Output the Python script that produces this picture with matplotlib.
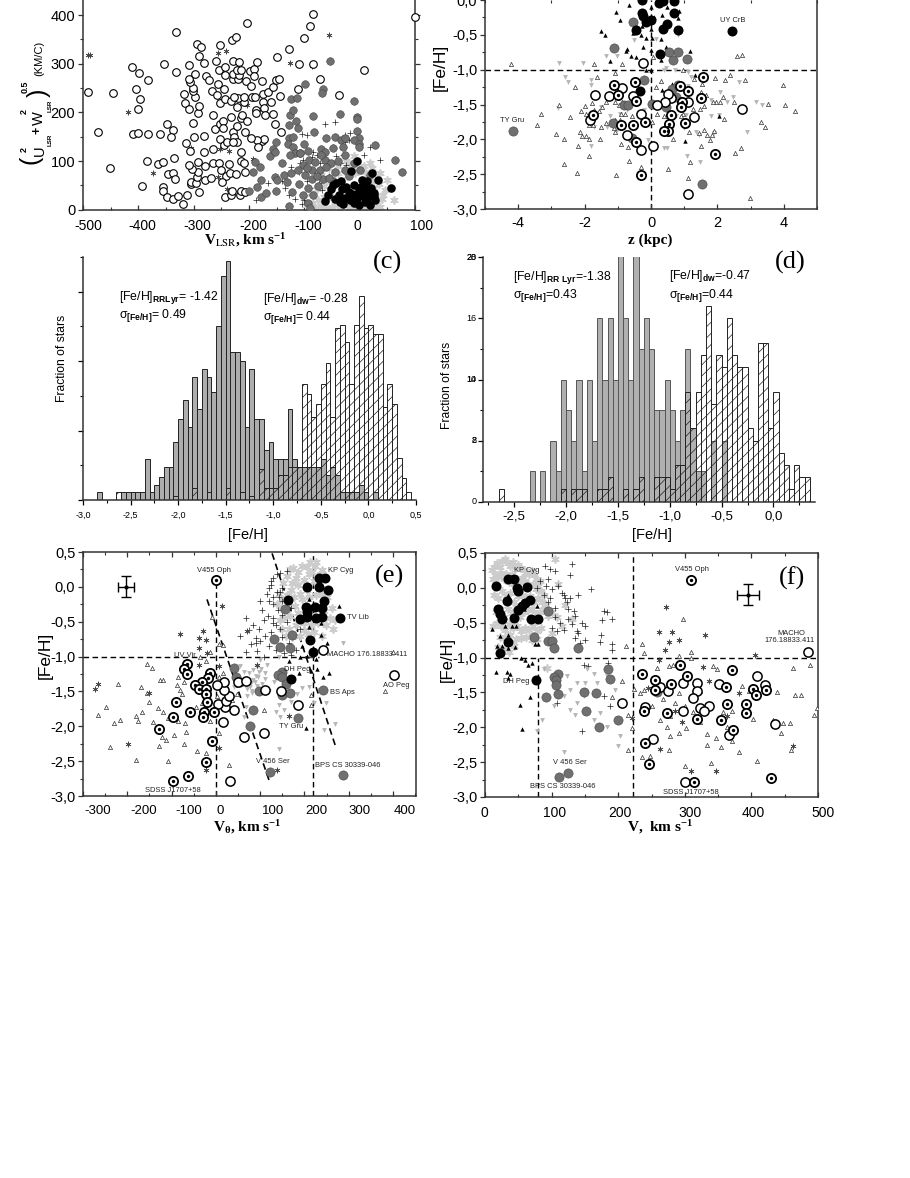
import matplotlib
matplotlib.use("Agg")

import matplotlib.pyplot as plt
from matplotlib.ticker import MultipleLocator

W, H = 910, 1178
SANS = "Liberation Sans"
SERIF = "Liberation Serif"

plt.rcParams["font.family"] = [SANS, "DejaVu Sans"]
plt.rcParams["mathtext.fontset"] = "custom"
plt.rcParams["mathtext.rm"] = SANS
plt.rcParams["mathtext.bf"] = SANS + ":bold"
plt.rcParams["mathtext.default"] = "regular"
plt.rcParams["hatch.linewidth"] = 0.5
plt.rcParams["axes.unicode_minus"] = False

# panel (a): V_LSR against sqrt(U^2 + W^2)
a_open_v = [-491, -446, -473, -452, -411, -399, -382, -404, -397, -400, -410, -400, -382, -361, -384, -394, -365, -355,
            -353, -332, -332, -349, -338, -341, -336, -347, -338, -333, -355, -355, -349, -338, -329, -319, -312, -291,
            -304, -305, -295, -294, -292, -303, -308, -293, -279, -265, -280, -268, -314, -306, -299, -281, -282, -265,
            -302, -293, -290, -315, -308, -317, -297, -302, -302, -307, -308, -297, -309, -290, -294, -286, -282, -277,
            -272, -266, -258, -259, -252, -255, -256, -246, -244, -244, -253, -244, -232, -265, -262, -253, -247, -247,
            -233, -253, -245, -239, -229, -227, -221, -229, -254, -236, -250, -241, -248, -235, -223, -244, -233, -230,
            -217, -215, -207, -215, -214, -209, -207, -221, -207, -215, -204, -212, -221, -209, -220, -228, -209, -194,
            -189, -229, -220, -229, -218, -229, -218, -221, -214, -206, -196, -198, -191, -191, -185, -177, -230, -224,
            -204, -174, -165, -156, -151, -145, -144, -174, -161, -173, -188, -188, -171, -156, -153, -142, -176, -173,
            -186, -196, -183, -150, -128, -110, -101, -90, -84, -84, -111, -72, -38, 7, 100]
a_open_w = [242, 239, 160, 86, 294, 281, 266, 249, 227, 206, 156, 157, 155, 155, 100, 48, 93, 99,
            300, 366, 284, 177, 164, 149, 107, 74, 75, 63, 47, 38, 27, 23, 29, 12, 30, 36,
            52, 56, 55, 68, 77, 84, 92, 98, 90, 95, 62, 66, 138, 121, 149, 151, 118, 125,
            179, 199, 214, 219, 207, 238, 232, 244, 250, 262, 268, 278, 297, 316, 340, 334, 302, 275,
            266, 244, 236, 306, 339, 287, 258, 249, 294, 276, 220, 227, 223, 195, 165, 176, 183, 167,
            190, 145, 133, 140, 160, 150, 140, 140, 95, 94, 82, 70, 57, 75, 73, 26, 30, 38,
            30, 38, 37, 118, 101, 95, 77, 172, 160, 188, 183, 195, 212, 222, 229, 231, 232, 232,
            232, 268, 268, 279, 277, 305, 303, 287, 287, 264, 255, 286, 290, 275, 303, 264, 349, 355,
            383, 238, 242, 253, 266, 269, 234, 222, 222, 210, 205, 198, 195, 197, 177, 160, 142, 145,
            143, 148, 128, 313, 331, 299, 352, 378, 402, 300, 249, 268, 236, 288, 397]
a_gray_v = [-192, -189, -180, -179, -185, -200, -179, -170, -162, -156, -153, -151, -153, -150, -151, -141, -137, -132,
            -125, -127, -123, -128, -126, -120, -115, -111, -125, -114, -99, -66, -68, -85, -54, -35, -10, -4, -5, -5,
            -82, -61, -45, -34, -27, -2, -10, -1, -2, 27, -127, -130, -121, -120, -101, -117, -108, -126, -93, -69, -63,
            -48, -30, 63, 77, -108, -102, -91, -81, -87, -72, -63, -51, -45, -66, -87, -99, -93, -84, -102, -93, -90,
            -48, -27, 1, 19, -11, -27, -78, -95, -60, -40, -20, -75, -110, -112, -70, -55]
a_gray_w = [77, 99, 88, 61, 46, 38, 27, 35, 110, 124, 119, 140, 68, 62, 38, 95, 71, 57,
            75, 8, 37, 174, 195, 205, 183, 167, 228, 229, 258, 249, 239, 192, 305, 196, 223, 190, 186, 162,
            159, 147, 149, 143, 147, 147, 143, 135, 129, 132, 147, 136, 129, 150, 136, 116, 116, 112, 121, 124, 119,
            126, 129, 102, 78, 116, 92, 102, 99, 82, 82, 102, 95, 78, 64, 64, 71, 44, 30, 30, 13, 3,
            58, 82, 82, 71, 95, 112, 70, 85, 88, 100, 70, 48, 52, 82, 112, 66]
a_black_v = [-5, -16, 22, 34, 57, -33, -42, -32, -48, -57, -63, -36, -27, -19, -11, 4, 13, -2, 13, 25, -7, -1, 7, 19,
             28, -11, 14, 2, -14, -52, -44, -38, -24, -6, 8, 18, 10, -4, -18, -30, 20, 26, 4]
a_black_w = [100, 80, 76, 61, 45, 59, 54, 42, 51, 30, 18, 16, 25, 37, 51, 61, 58, 44, 40, 34, 20, 10, 27, 10,
             20, 13, 20, 34, 32, 42, 22, 30, 47, 32, 50, 30, 15, 25, 20, 12, 44, 28, 48]
a_plus_v = [-62, -45, -105, -96, -27, -17, -27, -20, -48, 7, 19, 36, -165, -188, -135, -117, -105, -108, -102, -87,
            -78, -69, -60, -42, -30, -36, -24, -95, -80, -74, -68, -55, -90, -110, -125, -140, -128, -72, -84, -100]
a_plus_w = [177, 181, 155, 153, 153, 157, 140, 143, 129, 112, 129, 102, 54, 20, 44, 23, 12, 95, 102, 109,
            112, 109, 105, 110, 112, 95, 92, 60, 75, 55, 40, 70, 45, 78, 88, 60, 30, 95, 118, 20]
a_light_v = [49, 62, 19, 37, 46, 40, 37, 28, 10, -5, -20, -35, -50, -60, -70, -80, -90, -85, -75, -65, -55, -45, -30, -15,
             0, 15, 30, 25, 10, -10, -25, -40, -55, -70, -65, -50, -35, -20, -5, 20, 35, 42, -95, -100, -88, -78, -60,
             -40, -22, -8, 8, 22, 5, -12, -30, -48, 30, 16]
a_light_w = [61, 20, 95, 75, 40, 23, 6, 2, 3, 2, 4, 2, 5, 3, 8, 4, 2, 14, 20, 26, 32, 12, 10, 8,
             12, 6, 12, 45, 78, 110, 100, 90, 85, 72, 48, 70, 60, 95, 85, 58, 52, 30, 10, 24, 35, 42, 60,
             75, 70, 75, 90, 86, 32, 30, 18, 25, 28, 44]
a_star_v = [-491, -488, -418, -373, -256, -241, -126, -55, -253, -237, -239, -192, -204, -304, -256, -86]
a_star_w = [318, 318, 200, 75, 323, 326, 301, 360, 125, 121, 42, 105, 215, 126, 68, 296]

# panel (b): z against [Fe/H]
b_gray_z = [-4.15, -0.55, -1.12, 0.53, 0.82, 0.66, 1.08, -0.21, 0.64, 0.75, 0.8, -0.82, -0.68, -1.15, -0.56, 0.04, 0.44, 1.55]
b_gray_fe = [-1.875, -0.32, -0.69, -0.75, -0.74, -0.86, -0.85, -1.15, -1.28, -1.39, -1.22, -1.5, -1.5, -1.76, -1.98, -1.49, -1.54, -2.64]
b_black_z = [2.43, -0.27, 0.24, 0.35, 0.7, -0.27, -0.23, -0.01, -0.16, -0.46, 0.47, 0.36, 0.69, 0.8, 0.28, -0.34]
b_black_fe = [-0.45, 0.0, -0.05, -0.01, -0.01, -0.19, -0.23, -0.29, -0.31, -0.43, -0.34, -0.41, -0.19, -0.43, -0.77, -1.31]
b_open_z = [-0.23, -1.68, -1.28, -0.86, -0.55, -0.31, -1.84, -0.72, -0.3, 0.05, 1.12, 2.75, 1.31, 1.11, 0.59, 0.51, 0.43, 0.18]
b_open_fe = [-0.9, -1.36, -1.38, -1.26, -1.38, -1.64, -1.72, -1.94, -2.16, -2.1, -2.78, -1.57, -1.68, -1.47, -1.41, -1.35, -1.47, -1.5]
b_ring_z = [1.56, -1.11, -0.48, -0.99, -0.44, -1.74, -0.89, -0.54, -0.19, -0.44, -0.3, 1.92, 1.51, 1.12, 0.86, 0.94, 0.89, 0.59, 0.54, 0.5, 0.38, 1.03]
b_ring_fe = [-1.1, -1.22, -1.17, -1.37, -1.45, -1.65, -1.8, -1.79, -1.75, -2.04, -2.51, -2.21, -1.41, -1.31, -1.24, -1.46, -1.53, -1.65, -1.78, -1.88, -1.88, -1.76]
b_tri_z = [-4.22, 2.59, 2.74, -1.71, -0.87, 0.06, 0.95, -1.09, -1.64, -2.29, 0.29, 1.3, 1.94, 2.23, 2.38, 2.82, 3.99, 4.03,
           3.52, 4.33, 3.3, 3.44, -3.31, -3.44, -2.85, -2.76, -2.62, -2.43, -2.63, -2.23, -2.19, -1.86, -1.04, -0.66, -0.3,
           0.52, 1.16, 1.12, 2.99, 2.53, 2.71, -1.99, -1.77, -2.12, -1.95, -1.72, -1.57, -1.47, -1.37, -1.07, -0.97, -0.87,
           -1.87, -1.74, -1.52, -1.37, -1.12, -1.07, -2.15, -2.07, -1.97, -1.87, -1.55, -0.89, -0.51, -0.41, -0.69, 0.14,
           0.19, 0.04, 2.16, 2.08, 1.95, 1.88, 2.21, 2.49, 1.15, 1.45, 1.6, 1.9, 1.85, 1.7, 1.78, 1.5, 0.65, 1.55, 1.1, 1.25,
           1.48, 1.6, 1.67, 1.5, 0.95, 0.69, 0.39, 0.9, -0.31, -0.56, -0.77, -0.61, -0.89, -0.92, -1.07]
b_tri_fe = [-0.92, -0.8, -0.79, -0.92, -0.92, -0.82, -1.0, -1.05, -1.11, -1.25, -1.16, -1.14, -1.12, -1.15, -1.08, -1.15, -1.22, -1.5,
            -1.49, -1.59, -1.75, -1.82, -1.63, -1.79, -1.92, -1.51, -2.0, -1.68, -2.35, -2.48, -2.09, -2.24, -2.51, -2.31, -2.4,
            -2.42, -2.33, -2.55, -2.84, -2.2, -2.12, -1.52, -1.48, -1.59, -1.64, -1.58, -1.59, -1.53, -1.46, -1.47, -1.51, -1.47,
            -1.79, -1.8, -1.82, -1.76, -1.84, -1.89, -1.89, -1.95, -1.95, -1.99, -2.0, -2.06, -1.96, -2.05, -2.11, -1.25,
            -1.63, -1.75, -1.39, -1.46, -1.47, -1.47, -1.71, -1.47, -1.9, -1.91, -1.86, -1.88, -1.94, -1.94, -2.01, -2.09, -2.0, -1.2, -1.48, -1.56,
            -1.56, -1.52, -1.36, -1.32, -1.63, -1.65, -1.67, -1.67, -1.65, -1.67, -1.63, -1.48, -1.63, -1.72, -1.72]
b_down_z = [-2.76, -2.04, -1.35, -1.02, -2.58, -2.49, -1.8, -1.8, -2.81, -1.82, 2.08, 3.15, 3.34, 2.89, 2.66, 1.8, 2.05, 1.07, 1.47,
            0.39, 0.49, -0.09, -0.51, 0.8, 0.14, 0.44, 0.72, 1.1, 1.2, 1.35, 1.45, 1.9, 1.82, 2.3, 2.46, 1.0, 0.75, 1.1, 1.05, 0.39,
            -1.02, -0.92, -1.22, -0.72, -1.52, -0.21, -0.46, -1.32, -1.72]
b_down_fe = [-0.9, -0.91, -0.8, -0.81, -1.1, -1.17, -1.15, -1.22, -1.55, -2.09, -1.32, -1.46, -1.51, -1.9, -1.17, -1.67, -1.65, -2.24, -2.33,
             -2.13, -2.13, -2.01, -0.57, -0.5, -0.56, -0.98, -1.01, -1.03, -1.1, -1.89, -1.94, -1.91, -1.44, -1.46, -1.39, -1.84, -1.67, -1.24, -1.65, -1.0,
             -1.87, -1.63, -1.67, -1.58, -1.53, -1.58, -2.06, -1.82, -1.82]
b_up_z = [-0.66, -1.05, -0.92, -1.5, -1.39, 0.33, 0.85, 0.82, 0.54, 0, -0.31, -0.53, -0.16, 0.04, 0.29, -0.72, -0.75, -0.23, 0, 0.46,
          1.17, -0.61, -0.46, -1.22, 0.29, -0.21, -0.14, 0.01, 1.33, 0.32, 0.64, 1.02, 2.05, -0.46, 0, 0.49, -0.26, 0.09]
b_up_fe = [-0.07, -0.17, -0.28, -0.44, -0.5, -0.21, -0.16, -0.26, -0.33, -0.42, -0.5, -0.48, -0.55, -0.55, -0.56, -0.71, -0.73, -0.68, -0.72, -0.67,
           -0.73, -0.8, -0.82, -0.87, -0.86, -0.91, -1.01, -1.0, -1.08, -1.29, -1.2, -2.02, -1.67, -0.37, -0.1, -0.1, -0.38, -0.24]

# panel (c): histograms
c_rr_feh = [-2.825, -2.575, -2.525, -2.475, -2.425, -2.375, -2.325, -2.275, -2.225, -2.175, -2.125, -2.075, -2.025, -1.975, -1.925,
            -1.875, -1.825, -1.775, -1.725, -1.675, -1.625, -1.575, -1.525, -1.475, -1.425, -1.375, -1.325, -1.275, -1.225, -1.175,
            -1.125, -1.075, -1.025, -0.975, -0.925, -0.875, -0.825, -0.775, -0.725, -0.675, -0.625, -0.575, -0.525, -0.475, -0.425,
            -0.375, -0.325, -0.275, -0.225, -0.175, -0.125, -0.075, -0.025, 0.075]
c_rr_n = [2, 2, 2, 2, 2, 2, 10.6, 2, 4, 6, 8.5, 8.5, 15, 21, 26,
          19, 32, 23.5, 34, 32, 28, 45, 58, 62, 38.5, 38.5, 36, 19, 34, 21,
          21, 13, 15, 10.6, 10.6, 10.6, 23.5, 10.6, 8.5, 8.5, 8.5, 8.5, 8.5, 10.6, 6.5,
          8.5, 6.5, 2, 2, 2, 2, 4, 2, 2]
c_dw_feh = [-2.625, -2.025, -1.825, -1.675, -1.475, -1.325, -1.225, -1.125, -1.075, -1.025, -0.975, -0.925, -0.875, -0.825, -0.775,
            -0.725, -0.675, -0.625, -0.575, -0.525, -0.475, -0.425, -0.375, -0.325, -0.275, -0.225, -0.175, -0.125, -0.075, -0.025,
            0.025, 0.075, 0.125, 0.175, 0.225, 0.275, 0.325, 0.375, 0.425]
c_dw_n = [2, 1, 3, 2, 3, 2, 1, 8, 3, 3, 3, 6.5, 6.5, 8.5, 8.5,
          8.5, 30, 27.5, 21.5, 25, 30, 35.5, 21.5, 44.5, 45.5, 41, 30, 45.5, 53, 44.5, 45.5,
          43, 43, 24, 30, 25, 11, 5.6, 2]

# panel (d): histograms
d_rr_feh = [-2.325, -2.225, -2.125, -2.075, -2.025, -1.975, -1.925, -1.875, -1.825, -1.775, -1.725, -1.675, -1.625, -1.575,
            -1.525, -1.475, -1.425, -1.375, -1.325, -1.275, -1.225, -1.175, -1.125, -1.075, -1.025, -0.975, -0.925, -0.875,
            -0.825, -0.775, -0.725, -0.675, -0.575, -0.475]
d_rr_n = [2.5, 2.5, 5, 2.5, 10, 7.5, 5, 10, 2.5, 10, 5, 15, 10, 15,
          10, 20.5, 15, 10, 20.5, 12.5, 15, 12.5, 7.5, 7.5, 10, 7.5, 5, 7.5,
          12.5, 6, 2.5, 2.5, 5, 5]
d_dw_feh = [-2.625, -2.025, -1.925, -1.875, -1.825, -1.675, -1.625, -1.575, -1.425, -1.325, -1.275, -1.125, -1.075, -1.025,
            -0.975, -0.925, -0.875, -0.825, -0.775, -0.725, -0.675, -0.625, -0.575, -0.525, -0.475, -0.425, -0.375, -0.325, -0.275,
            -0.225, -0.175, -0.125, -0.075, -0.025, 0.025, 0.075, 0.125, 0.175, 0.225, 0.275, 0.325]
d_dw_n = [1, 1, 1, 1, 1, 1, 1, 2, 1, 1, 2, 2, 2, 2,
          1, 3, 3, 9, 6, 9, 12, 16, 8, 12, 11, 15, 12, 11, 11,
          6, 5, 13, 13, 6, 9, 4, 3, 1, 3, 2, 2]

# panel (e): V_theta against [Fe/H]
e_gray_v = [40, 45, 54, 97, 84, 78, 123, 287, 242, 185, 156, 132, 144, 172, 167, 150, 140, 150, 159, 150, 167]
e_gray_fe = [-1.17, -1.3, -1.36, -1.5, -1.76, -2.0, -2.65, -2.7, -1.48, -1.88, -0.32, -0.75, -0.86, -0.69, -0.87, -1.22, -1.27, -1.3, -1.39, -1.55, -1.52]
e_black_v = [162, 206, 234, 246, 234, 253, 244, 203, 225, 206, 240, 240, 280, 190, 206, 212, 220, 169, 227]
e_black_fe = [-0.19, 0.0, 0.13, 0.13, 0.0, -0.05, -0.2, -0.29, -0.29, -0.36, -0.31, -0.43, -0.44, -0.46, -0.43, -0.76, -0.93, -1.32, -0.44]
e_open_v = [402, 243, 185, 147, 110, 108, 63, 31, 17, 42, 21, 5, 23, 29, 19, 19, 2, 51, 67]
e_open_fe = [-1.26, -0.91, -1.7, -1.5, -1.48, -2.1, -2.16, -2.78, -1.94, -1.76, -1.72, -1.68, -1.64, -1.57, -1.48, -1.37, -1.41, -1.37, -1.35]
e_ring_v = [0, -66, -72, -66, -13, -17, -32, -47, -39, -22, -22, -19, -26, -29, -5, -91, -97, -58, -128, -8, -22, -64, -96]
e_ring_fe = [0.1, -1.11, -1.18, -1.25, -1.23, -1.31, -1.37, -1.41, -1.46, -1.46, -1.54, -1.65, -1.79, -1.87, -1.79, -1.65, -1.86, -1.79, -2.04, -2.21, -2.51, -2.72, -2.78]
e_star_v = [-81, -30, -39, -22, -39, 15, 70, -20, -39, -272, -266, -150, -198, -23, 137, 166, 6, 94, 6]
e_star_fe = [-0.68, -0.63, -0.74, -0.76, -0.88, -0.27, -0.63, -0.95, -1.12, -1.46, -1.39, -1.52, -2.26, -2.62, -2.62, -1.85, -2.31, -1.12, -1.13]
e_tri_v = [-156, -145, -221, -249, -267, -217, -230, -240, -181, -181, -166, -175, -170, -155, -150, -126, -119, -88, -81, -77, -130, -119, -107,
           -85, -70, -141, -134, -122, -113, -128, -94, -73, -68, -107, -43, -23, 30, 6, -13, -2, 25, -85, -71, -62, -14, -22, -36, 8, 17, -9, 382,
           214, 214, 214, 108, 399, 36, 48, 17, 6, -45, -32, 2]
e_tri_fe = [-1.11, -1.16, -1.4, -1.72, -1.84, -1.91, -1.95, -2.3, -2.48, -1.85, -1.8, -1.93, -1.43, -1.52, -1.65, -1.34, -1.33, -1.41, -1.48, -1.54, -1.74, -1.79, -1.88,
            -1.93, -1.96, -1.94, -2.03, -2.15, -2.19, -2.28, -2.13, -2.25, -2.08, -2.5, -2.35, -2.39, -2.56, -2.1, -1.93, -2.17, -1.74, -1.29, -1.36, -1.26, -0.93, -1.06, -1.01, -0.82, -0.83, -0.43, -1.49,
            -0.98, -1.55, -1.69, -1.76, -0.93, -1.62, -1.53, -1.24, -1.29, -1.72, -1.67, -1.57]
e_down_v = [244, 269, 142, 135, 146, 63, 67, 70, 82, 119, 131, 142, 153, 169, 184, 195, 210, 233, 221, 248, 63, 55, 85, 112, 142, 100, 116, 288,
            63, 78, 42, 33, 92, 98, 90, 85, 80, 95, 88, 103, 75, 70, 105, 112, 92, 82, 98]
e_down_fe = [-2.05, -1.97, -2.33, -1.79, -1.86, -1.86, -1.72, -1.57, -1.5, -1.5, -1.36, -1.69, -1.76, -1.65, -1.53, -1.45, -1.43, -1.48, -1.67, -1.67, -1.22, -1.14, -1.19, -1.24, -1.0, -1.05, -1.12, -0.81,
             -1.34, -1.43, -1.43, -1.76, -1.15, -1.22, -1.28, -1.33, -1.38, -1.3, -1.36, -1.18, -1.24, -1.46, -1.4, -1.32, -1.42, -1.52, -1.48]
e_up_v = [279, 210, 216, 191, 206, 227, 165, 229, 216, 255, 243, 187, 203, 237, 252, 237, 209, 195, 210]
e_up_fe = [-0.27, -0.17, -0.95, -1.0, -0.99, -1.03, -1.07, -1.18, -1.2, -1.23, -1.29, -1.24, -2.03, -0.69, -0.8, -0.52, -0.72, -0.85, -0.58]
e_plus_v = [138, 125, 145, 161, 130, 119, 138, 150, 143, 119, 104, 128, 140, 69, 108, 128, 97, 55, 90, 90, 67, 108, 130, 150, 160,
            145, 125, 112, 100, 120, 135, 155, 170, 180, 165, 150, 135, 118, 100, 85, 130, 150, 170, 190, 145, 125, 115, 75, 80, 92]
e_plus_fe = [0.18, 0.09, 0.2, 0.23, 0.12, -0.02, -0.07, -0.02, -0.14, -0.21, -0.33, -0.25, -0.33, -0.44, -0.48, -0.52, -0.6, -0.71, -0.73, -0.8, -0.93, -1.0, -0.45, -0.4, -0.5,
             -0.6, -0.65, -0.7, -0.78, -0.85, -0.9, -0.95, -0.98, -0.9, -0.8, -0.72, -0.55, -0.42, -0.2, -0.55, -0.15, -0.2, -0.3, -0.6, -0.08, 0.03, -0.1, -0.62, -0.82, -0.92]
e_light_v = [168, 175, 186, 195, 205, 212, 218, 226, 235, 180, 172, 160, 152, 170, 185, 198, 210, 222, 232, 240, 225, 205, 190, 176, 160, 150, 142,
             138, 148, 162, 178, 194, 210, 226, 240, 252, 262, 270, 258, 245, 232, 216, 200, 185, 168, 155, 145, 150, 165, 182, 198, 214, 230, 248, 264, 190,
             208, 172, 158, 222, 240]
e_light_fe = [0.25, 0.27, 0.22, 0.3, 0.28, 0.36, 0.22, 0.35, 0.18, 0.12, 0.05, 0.15, 0.05, -0.05, 0.03, 0.1, 0.18, 0.08, 0.02, 0.24, 0.3, -0.05, -0.1, -0.15, -0.12, -0.18, -0.1,
              -0.25, -0.3, -0.25, -0.28, -0.18, -0.15, -0.12, -0.1, -0.15, -0.3, -0.48, -0.45, -0.35, -0.3, -0.4, -0.52, -0.38, -0.42, -0.45, -0.48, -0.6, -0.6, -0.55, -0.62, -0.55, -0.52, -0.55, -0.6, -0.7,
              -0.68, -0.72, -0.7, -0.65, -0.7]

# panel (f): V against [Fe/H]
f_gray_v = [95, 74, 94, 100, 103, 139, 109, 104, 106, 106, 110, 91, 148, 152, 166, 171, 184, 187, 200, 124, 111, 258]
f_gray_fe = [-0.33, -0.7, -0.76, -0.76, -0.86, -0.86, -1.23, -1.28, -1.32, -1.4, -1.52, -1.56, -1.49, -1.77, -1.51, -2.0, -1.17, -1.31, -1.89, -2.65, -2.71, -1.5]
f_black_v = [16, 35, 43, 48, 49, 63, 33, 20, 23, 26, 43, 68, 60, 55, 50, 69, 79, 35, 22, 76]
f_black_fe = [0.02, 0.13, 0.13, 0.0, -0.05, 0.01, -0.19, -0.3, -0.37, -0.44, -0.43, -0.18, -0.22, -0.26, -0.32, -0.45, -0.44, -0.78, -0.94, -1.32]
f_open_v = [485, 409, 420, 436, 367, 205, 253, 301, 240, 263, 275, 298, 319, 318, 312, 297, 323, 336, 329, 351]
f_open_fe = [-0.92, -1.27, -1.39, -1.96, -2.11, -1.65, -2.17, -2.79, -1.71, -1.42, -1.48, -1.37, -1.36, -1.48, -1.58, -1.77, -1.73, -1.69, -1.76, -1.38]
f_ring_v = [309, 235, 255, 255, 280, 293, 303, 371, 362, 402, 407, 422, 363, 392, 392, 354, 373, 319, 273, 238, 240, 246, 314, 429]
f_ring_fe = [0.11, -1.23, -1.32, -1.46, -1.38, -1.11, -1.26, -1.18, -1.42, -1.45, -1.54, -1.47, -1.66, -1.66, -1.79, -1.89, -2.04, -1.88, -1.79, -1.76, -2.22, -2.53, -2.79, -2.73]
f_star_v = [272, 261, 281, 276, 291, 330, 271, 262, 327, 244, 296, 286, 263, 309, 347, 463, 405, 221, 336, 381, 364]
f_star_fe = [-0.28, -0.64, -0.63, -0.77, -0.75, -0.68, -0.89, -1.03, -1.13, -1.44, -1.92, -1.76, -2.31, -2.63, -2.63, -2.27, -0.96, -1.86, -1.34, -1.51, -1.84]
f_plus_v = [90, 98, 131, 128, 105, 159, 140, 118, 123, 95, 83, 78, 105, 133, 178, 183, 190, 175, 150, 138, 174, 190, 191, 173, 143, 155, 148, 108, 178, 188, 145, 185,
            92, 100, 110, 115, 120, 125, 135, 98, 105, 112, 125, 130, 140, 150, 118, 108, 88, 95, 100, 135, 145, 128]
f_plus_fe = [0.32, 0.27, 0.34, 0.19, 0.24, -0.02, -0.1, -0.1, -0.21, 0.12, 0.1, 0.0, -0.29, -0.33, -0.33, -0.35, -0.44, -0.46, -0.55, -0.62, -0.68, -0.8, -0.89, -0.78, -0.79, -1.12, -1.11, -1.65, -1.55, -1.7, -2.06, -1.08,
             0.02, -0.02, 0.03, -0.08, -0.15, -0.3, -0.4, -0.15, -0.42, -0.5, -0.45, -0.52, -0.65, -0.75, -0.6, -0.62, -0.1, -0.2, -0.58, -0.72, -0.5, -0.15]
f_light_v = [10, 14, 18, 22, 26, 30, 34, 38, 42, 46, 50, 54, 58, 62, 66, 70, 74, 78, 82, 12, 16, 20, 24, 28, 32, 36, 40, 44, 48, 52, 56, 60, 64, 68, 72, 76, 80, 84, 88,
             14, 20, 26, 32, 38, 44, 50, 56, 62, 68, 74, 80, 86, 92, 16, 22, 28, 34, 40, 46, 52, 58, 64, 70, 76, 82, 88, 94, 100, 108, 93, 12, 18, 24, 30, 36, 42, 48, 54, 60, 66, 72, 78, 84,
             22, 30, 38, 46, 54, 62, 70, 78, 20, 28, 36, 44, 110, 120, 130, 100, 115, 105]
f_light_fe = [0.25, 0.3, 0.35, 0.3, 0.38, 0.42, 0.36, 0.32, 0.37, 0.3, 0.33, 0.28, 0.25, 0.22, 0.2, 0.24, 0.18, 0.12, 0.1, 0.12, 0.18, 0.15, 0.22, 0.12, 0.2, 0.08, 0.2, 0.06, 0.12, 0.08, 0.14, 0.1, 0.06, 0.03, 0.05, -0.02, 0.02, -0.05, -0.1,
              -0.1, -0.15, -0.05, -0.12, -0.08, -0.2, -0.12, -0.1, -0.15, -0.12, -0.2, -0.15, -0.2, -0.25, -0.35, -0.3, -0.42, -0.3, -0.36, -0.28, -0.42, -0.35, -0.32, -0.3, -0.38, -0.35, -0.3, -0.4, -0.35, -0.42, -1.15, -0.55, -0.5, -0.55, -0.6, -0.52, -0.58, -0.55, -0.62, -0.58, -0.6, -0.55, -0.62, -0.58,
              -0.7, -0.72, -0.68, -0.74, -0.72, -0.7, -0.75, -0.74, -0.85, -0.88, -0.92, -0.84, 0.05, -0.25, -0.45, -0.65, -0.55, 0.41]
f_down_v = [85, 78, 119, 200, 203, 163, 168, 148, 128, 135, 163, 183, 153, 138, 128, 118, 103, 88, 183, 195, 173, 138, 123, 150]
f_down_fe = [-1.9, -2.06, -2.35, -2.27, -2.13, -1.24, -1.36, -1.55, -1.75, -1.82, -1.89, -2.0, -1.17, -1.36, -1.46, -1.55, -1.7, -1.17, -1.27, -1.46, -1.79, -1.65, -1.27, -1.36]
f_up_v = [10, 30, 40, 47, 23, 35, 18, 25, 35, 45, 54, 60, 65, 70, 17, 33, 37, 35, 68, 52, 55, 35, 58, 78, 75, 80]
f_up_fe = [-0.59, -0.55, -0.54, -0.55, -0.69, -0.67, -0.83, -0.83, -0.86, -0.85, -1.0, -1.03, -1.1, -1.08, -1.21, -1.2, -1.24, -1.29, -1.56, -1.68, -2.03, -0.1, -0.31, -0.26, -0.81, -0.8]
f_tri_v = [212, 235, 238, 298, 309, 309, 291, 205, 223, 190, 215, 220, 215, 235, 247, 277, 300, 339, 409, 381, 371, 355, 333, 347, 333, 302, 291, 278, 263, 278, 463, 488, 466, 474, 439, 433, 444,
           458, 448, 459, 494, 499, 386, 343, 348, 396, 323, 338, 358, 371, 403, 323, 313, 286, 301, 291, 276, 283, 258, 268, 233, 238, 250, 273, 363]
f_tri_fe = [-0.84, -0.81, -0.93, -0.44, -0.92, -1.0, -0.98, -1.34, -1.45, -1.56, -1.83, -2.01, -2.33, -2.42, -2.41, -2.33, -2.56, -2.51, -2.48, -2.36, -2.2, -2.28, -2.25, -2.16, -2.1, -2.01, -2.08, -2.13, -1.89, -1.84, -1.15, -1.11, -1.53, -1.53, -1.5, -1.89, -2.08,
            -1.94, -1.94, -2.32, -1.83, -1.72, -1.41, -1.12, -1.17, -1.48, -1.48, -1.7, -1.78, -1.77, -1.88, -1.93, -1.78, -1.65, -1.7, -1.51, -1.12, -1.11, -1.15, -1.6, -1.51, -1.46, -1.7, -1.99, -1.99]

fig = plt.figure(figsize=(W / 100, H / 100), dpi=100, facecolor="white")


def make_axes(left, top, right, bottom):
    ax = fig.add_axes([left / W, 1 - bottom / H, (right - left) / W, (bottom - top) / H])
    for spine in ax.spines.values():
        spine.set_linewidth(1.1)
        spine.set_color("#333333")
    return ax


def ptext(x, y, s, **kw):
    # text placed by figure pixel, origin top left
    kw.setdefault("ha", "center")
    kw.setdefault("va", "center")
    return fig.text(x / W, 1 - y / H, s, **kw)


def x_labels(ax, ticks, labels, offsets, size, pad=9):
    ax.set_xticks(ticks)
    ax.set_xticklabels([])
    trans = ax.get_xaxis_transform()
    for t, lab, off in zip(ticks, labels, offsets):
        ax.annotate(lab, (t, 0), xycoords=trans, xytext=(off * 0.72, -pad * 0.72), textcoords="offset points",
                    ha="center", va="top", fontsize=size, annotation_clip=False)


def comma(v):
    return f"{v:.1f}".replace(".", ",")


def style_scatter(ax, xminor):
    ax.xaxis.set_minor_locator(MultipleLocator(xminor))
    ax.yaxis.set_major_locator(MultipleLocator(0.5))
    ax.yaxis.set_minor_locator(MultipleLocator(0.25))
    ax.tick_params(axis="x", which="both", direction="in", top=True, bottom=True, colors="#333333")
    ax.tick_params(axis="y", which="both", direction="out", colors="#333333")
    ax.tick_params(which="major", length=3.5, width=0.9)
    ax.tick_params(which="minor", length=2, width=0.8)
    ax.tick_params(axis="y", labelsize=10.5, labelcolor="black", pad=2)


def dashes(ax, xs, ys, lw=1.0, zorder=1):
    ax.plot(xs, ys, color="black", lw=lw, ls=(0, (4, 2.5)), zorder=zorder)


def star_layers(ax, light=None, plus=None, down=None, up=None, tri=None, star=None, gray=None, black=None, opened=None,
                ring=None, big=44):
    if light:
        ax.scatter(*light, s=26, marker=(6, 2, 0), color="#cccccc", linewidths=1.2, zorder=2)
    if plus:
        ax.scatter(*plus, s=22, marker="+", color="#222222", linewidths=0.5, zorder=3)
    if down:
        ax.scatter(*down, s=12, marker="v", color="#b5b5b5", linewidths=0, zorder=3)
    if up:
        ax.scatter(*up, s=10, marker="^", color="black", linewidths=0, zorder=4)
    if tri:
        ax.scatter(*tri, s=9, marker="^", facecolors="white", edgecolors="#333333", linewidths=0.5, zorder=4)
    if star:
        ax.scatter(*star, s=16, marker=(6, 2, 0), color="#444444", linewidths=0.4, zorder=4)
    if gray:
        ax.scatter(*gray, s=big, color="#707070", edgecolors="#444444", linewidths=0.4, zorder=5)
    if black:
        ax.scatter(*black, s=big + 8, color="black", linewidths=0, zorder=6)
    if opened:
        ax.scatter(*opened, s=big, facecolors="white", edgecolors="black", linewidths=1.1, zorder=7)
    if ring:
        ax.scatter(*ring, s=big, facecolors="white", edgecolors="black", linewidths=1.3, zorder=7)
        ax.scatter(*ring, s=6, color="black", linewidths=0, zorder=8)


def note(ax, x, y, s, size=5.4, **kw):
    ax.text(x, y, s, fontsize=size, color="#222222", ha="center", va="center", zorder=9, **kw)


# (a)
ax = make_axes(83, 0, 415, 209.7)
ax.spines["top"].set_visible(False)
ax.set_xlim(-500, 100)
ax.set_ylim(0, 431)
star_layers(ax, light=(a_light_v, a_light_w), plus=(a_plus_v, a_plus_w), star=(a_star_v, a_star_w),
            gray=(a_gray_v, a_gray_w), black=(a_black_v, a_black_w), big=30)
ax.scatter(a_open_v, a_open_w, s=30, facecolors="white", edgecolors="black", linewidths=0.8, zorder=4, clip_on=False)
ax.xaxis.set_minor_locator(MultipleLocator(50))
ax.yaxis.set_major_locator(MultipleLocator(100))
ax.yaxis.set_minor_locator(MultipleLocator(50))
ax.tick_params(axis="y", which="both", direction="out", colors="#333333", right=True)
ax.tick_params(axis="x", which="both", direction="in", colors="#333333")
ax.tick_params(which="major", length=3.5, width=0.9)
ax.tick_params(which="minor", length=2, width=0.8)
ax.tick_params(axis="y", labelsize=10.5, labelcolor="black", pad=2)
x_labels(ax, [-500, -400, -300, -200, -100, 0, 100], ["-500", "-400", "-300", "-200", "-100", "0", "100"],
         [5, 4, 4, 4, 4, -2, 7], 10)
ptext(245, 240, r"V$_{\mathrm{LSR}}$, km s$^{-1}$", family=SERIF, fontsize=11, fontweight="bold", math_fontfamily="stix")
for x, y, s, size, weight in [(30, 160, "(", 18, "normal"), (40, 151, "U", 10.5, "normal"), (24, 150, "2", 6.5, "bold"),
                              (50, 140, "LSR", 4.5, "bold"), (38, 130, "+", 9, "bold"), (39, 118, "W", 10.5, "normal"),
                              (24, 112, "2", 6.5, "bold"), (50, 106, "LSR", 4.5, "bold"), (39, 93, ")", 18, "normal"),
                              (25, 87, "0.5", 6.5, "bold"), (39, 58, "(KM/C)", 8, "normal")]:
    ptext(x, y, s, rotation=90, fontsize=size, fontweight=weight)

# (b)
ax = make_axes(485, 0, 817, 209)
ax.spines["top"].set_visible(False)
ax.set_xlim(-5, 5)
ax.set_ylim(-3, 0)
dashes(ax, [-5, 5], [-1, -1])
dashes(ax, [0, 0], [-3, 0])
star_layers(ax, down=(b_down_z, b_down_fe), up=(b_up_z, b_up_fe), tri=(b_tri_z, b_tri_fe), gray=(b_gray_z, b_gray_fe),
            black=(b_black_z, b_black_fe), opened=(b_open_z, b_open_fe), ring=(b_ring_z, b_ring_fe))
ax.set_xticks([-4, -2, 0, 2, 4])
ax.set_yticks([-3, -2.5, -2, -1.5, -1, -0.5, 0])
ax.set_yticklabels([comma(v) for v in [-3, -2.5, -2, -1.5, -1, -0.5, 0]])
style_scatter(ax, 1)
ax.tick_params(axis="x", labelsize=10.5, labelcolor="black", top=False, pad=5)
note(ax, 2.45, -0.3, "UY CrB")
note(ax, -4.18, -1.73, "TY Gru")
ptext(650, 240, "z (kpc)", family=SERIF, fontsize=11, fontweight="bold")
ptext(440, 67, "[Fe/H]", rotation=90, fontsize=12.5)

# (c)
ax = make_axes(83, 257, 416, 500)
ax.spines["top"].set_visible(False)
ax.spines["right"].set_visible(False)
ax.set_xlim(-3, 0.5)
ax.set_ylim(0, 63)
ax.bar(c_rr_feh, c_rr_n, width=0.05, color="#adadad", edgecolor="#222222", linewidth=0.7, zorder=2)
ax.bar(c_dw_feh, c_dw_n, width=0.05, facecolor="none", edgecolor="#222222", hatch="///", linewidth=0.7, zorder=3)
ax.set_xticks([-3, -2.5, -2, -1.5, -1, -0.5, 0, 0.5])
ax.set_xticklabels([comma(v) for v in [-3, -2.5, -2, -1.5, -1, -0.5, 0, 0.5]], fontsize=6.5)
ax.xaxis.set_minor_locator(MultipleLocator(0.25))
ax.yaxis.set_major_locator(MultipleLocator(18))
ax.yaxis.set_minor_locator(MultipleLocator(9))
ax.set_yticklabels([])
ax.tick_params(which="major", length=3.5, width=0.9, pad=4)
ax.tick_params(which="minor", length=2, width=0.8)
ptext(248, 535, "[Fe/H]", fontsize=10.5)
ptext(62, 358, "Fraction of stars", rotation=90, fontsize=8.7)
ptext(119, 297, r"[Fe/H]$_{\mathbf{RRLyr}}$= -1.42", ha="left", fontsize=8.8)
ptext(119, 316, r"σ$_{\mathbf{[Fe/H]}}$= 0.49", ha="left", fontsize=8.8)
ptext(263, 299, r"[Fe/H]$_{\mathbf{dw}}$= -0.28", ha="left", fontsize=8.8)
ptext(263, 318, r"σ$_{\mathbf{[Fe/H]}}$= 0.44", ha="left", fontsize=8.8)
ptext(388, 262, "(c)", family=SERIF, fontsize=19)

# (d)
ax = make_axes(483, 257.3, 815, 501.7)
ax.spines["top"].set_visible(False)
ax.spines["right"].set_visible(False)
ax.set_xlim(-2.8, 0.4)
ax.set_ylim(0, 20)
ax.bar(d_rr_feh, d_rr_n, width=0.05, color="#b0b0b0", edgecolor="#555555", linewidth=0.7, zorder=2)
ax.bar(d_dw_feh, d_dw_n, width=0.05, facecolor="none", edgecolor="#222222", hatch="///", linewidth=0.7, zorder=3)
ax.set_xticks([-2.5, -2, -1.5, -1, -0.5, 0])
ax.set_xticklabels([comma(v) for v in [-2.5, -2, -1.5, -1, -0.5, 0]], fontsize=9.5)
ax.xaxis.set_minor_locator(MultipleLocator(0.25))
ax.yaxis.set_major_locator(MultipleLocator(5))
ax.yaxis.set_minor_locator(MultipleLocator(2.5))
ax.set_yticklabels([])
ax.tick_params(which="major", length=3.5, width=0.9, pad=3)
ax.tick_params(which="minor", length=2, width=0.8)
# these tick labels are printed over each other in the source figure
for tick, lab in [(0, "0"), (5, "8"), (5, "2"), (10, "10"), (10, "14"), (15, "16"), (20, "20"), (20, "28")]:
    ax.annotate(lab, (0, tick), xycoords=ax.get_yaxis_transform(), xytext=(-4.5, 0), textcoords="offset points",
                ha="right", va="center", fontsize=6.5, annotation_clip=False)
ptext(652, 535, "[Fe/H]", fontsize=10.5)
ptext(447, 385, "Fraction of stars", rotation=90, fontsize=8.7)
ptext(513, 278, r"[Fe/H]$_{\mathbf{RR\ Lyr}}$=-1.38", ha="left", fontsize=8.8)
ptext(513, 296, r"σ$_{\mathbf{[Fe/H]}}$=0.43", ha="left", fontsize=8.8)
ptext(669, 276, r"[Fe/H]$_{\mathbf{dw}}$=-0.47", ha="left", fontsize=8.8)
ptext(669, 295, r"σ$_{\mathbf{[Fe/H]}}$=0.44", ha="left", fontsize=8.8)
ptext(790, 262, "(d)", family=SERIF, fontsize=19)

# (e)
ax = make_axes(83, 552, 416, 796)
ax.set_xlim(-300, 452)
ax.set_ylim(-3, 0.5)
dashes(ax, [-300, 232], [-1, -1])
dashes(ax, [0, 0], [-3, 0.1])
dashes(ax, [220, 220], [-3, 0.5])
dashes(ax, [-20, 121], [-0.18, -2.79], lw=1.2)
dashes(ax, [127, 271], [0.48, -2.3], lw=1.2)
star_layers(ax, light=(e_light_v, e_light_fe), plus=(e_plus_v, e_plus_fe), down=(e_down_v, e_down_fe), up=(e_up_v, e_up_fe),
            tri=(e_tri_v, e_tri_fe), star=(e_star_v, e_star_fe), gray=(e_gray_v, e_gray_fe), black=(e_black_v, e_black_fe),
            opened=(e_open_v, e_open_fe), ring=(e_ring_v, e_ring_fe))
ax.errorbar([-203], [0], xerr=[18], yerr=[0.15], color="black", lw=1, capsize=3.5, marker="o", ms=2, zorder=5)
ax.set_yticks([-3, -2.5, -2, -1.5, -1, -0.5, 0, 0.5])
ax.set_yticklabels([comma(v) for v in [-3, -2.5, -2, -1.5, -1, -0.5, 0, 0.5]])
style_scatter(ax, 50)
x_labels(ax, [-300, -200, -100, 0, 100, 200, 300, 400], ["-300", "-200", "-100", "0", "100", "200", "300", "400"],
         [15, 16, 17, 4, 13, 12, 11, 12], 9.5)
for x, y, s in [(-5, 0.23, "V455 Oph"), (282, 0.24, "KP Cyg"), (321, -0.44, "TV Lib"), (-70, -0.98, "UV Vir"),
                (342, -0.97, "MACHO 176.18833.411"), (184, -1.18, "DH Peg"), (286, -1.51, "BS Aps"), (408, -1.42, "AO Peg"),
                (170, -2.0, "TY Gru"), (128, -2.5, "V 456 Ser"), (297, -2.56, "BPS CS 30339-046"), (-96, -2.92, "SDSS J1707+58")]:
    note(ax, x, y, s)
ptext(247, 827, r"V$_{\theta}$, km s$^{-1}$", family=SERIF, fontsize=11, fontweight="bold", math_fontfamily="stix")
ptext(45, 655, "[Fe/H]", rotation=90, fontsize=12.5)
ptext(389, 576, "(e)", family=SERIF, fontsize=19)

# (f)
ax = make_axes(485, 553, 818, 797)
ax.set_xlim(0, 500)
ax.set_ylim(-3, 0.5)
dashes(ax, [0, 500], [-1, -1])
dashes(ax, [80, 80], [-3, -1])
dashes(ax, [222, 222], [-3, 0.5])
star_layers(ax, light=(f_light_v, f_light_fe), plus=(f_plus_v, f_plus_fe), down=(f_down_v, f_down_fe), up=(f_up_v, f_up_fe),
            tri=(f_tri_v, f_tri_fe), star=(f_star_v, f_star_fe), gray=(f_gray_v, f_gray_fe), black=(f_black_v, f_black_fe),
            opened=(f_open_v, f_open_fe), ring=(f_ring_v, f_ring_fe))
ax.errorbar([395], [-0.1], xerr=[16], yerr=[0.15], color="black", lw=1, capsize=3.5, marker="o", ms=2, zorder=5)
ax.set_yticks([-3, -2.5, -2, -1.5, -1, -0.5, 0, 0.5])
ax.set_yticklabels([comma(v) for v in [-3, -2.5, -2, -1.5, -1, -0.5, 0, 0.5]])
style_scatter(ax, 50)
x_labels(ax, [0, 100, 200, 300, 400, 500], ["0", "100", "200", "300", "400", "500"], [-1, 3, 2, 5, 2, 5], 10)
for x, y, s in [(63, 0.25, "KP Cyg"), (311, 0.27, "V455 Oph"), (47, -1.35, "DH Peg"), (128, -2.51, "V 456 Ser"),
                (117, -2.85, "BPS CS 30339-046"), (309, -2.94, "SDSS J1707+58"), (460, -0.65, "MACHO"), (458, -0.75, "176.18833.411")]:
    note(ax, x, y, s)
ptext(660, 827, r"V,  km s$^{-1}$", family=SERIF, fontsize=11, fontweight="bold", math_fontfamily="stix")
ptext(447, 660, "[Fe/H]", rotation=90, fontsize=12)
ptext(792, 578, "(f)", family=SERIF, fontsize=19)

fig.savefig("out.png", dpi=100)
plt.close(fig)
